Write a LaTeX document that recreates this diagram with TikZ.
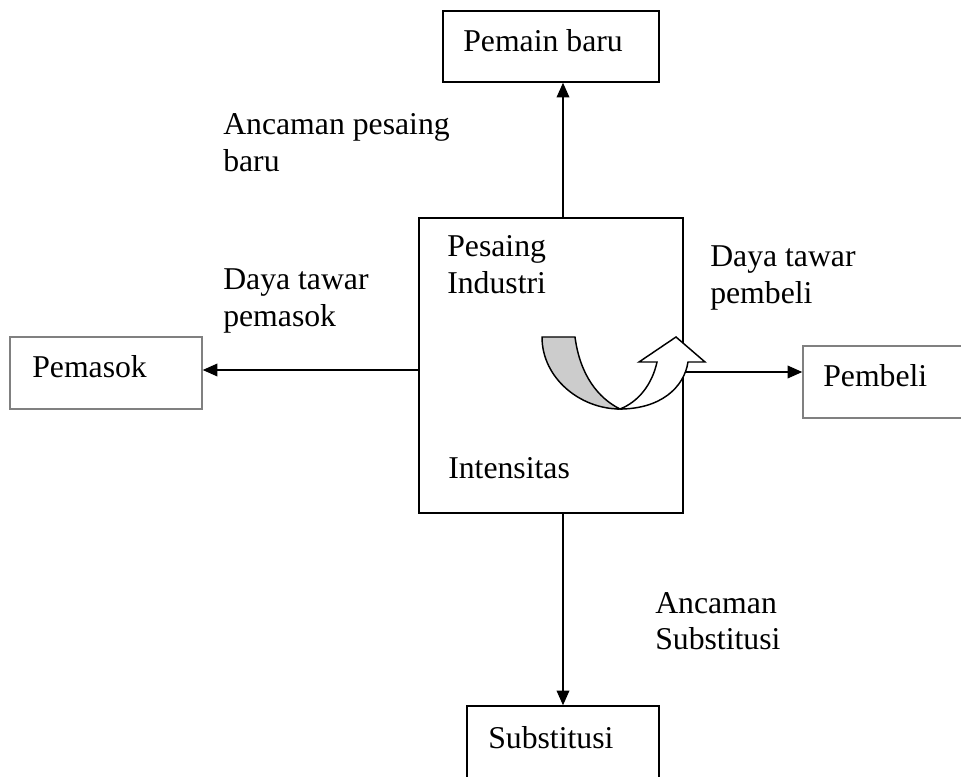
\documentclass[tikz,border=0pt]{standalone}
\usepackage{fontspec}
\setmainfont{Liberation Serif}
\usetikzlibrary{arrows.meta,fit}
\begin{document}
\begin{tikzpicture}[x=0.75pt,y=-0.75pt,
  box/.style={draw,line width=1.1pt,inner sep=0pt,rectangle},
  gbox/.style={box,draw=black!50},
  lbl/.style={anchor=base west,inner sep=0pt,font=\fontsize{23.8}{27.5}\selectfont},
  arr/.style={line width=1.1pt,-{Triangle[length=11pt,width=9.5pt]}},
  ribbon/.style={line width=1.1pt,line join=miter}]
\useasboundingbox (0,0) rectangle (961,777);
\clip (0,0) rectangle (961,777);
% boxes
\node[box,fit={(443,11) (659,82)}] (pb) {};
\node[box,fit={(419,218) (683,513)}] (ctr) {};
\node[gbox,fit={(10,337) (202,409)}] (pm) {};
\node[gbox,fit={(803,346) (985,418)}] (pbl) {};
\node[box,fit={(467,706) (659,800)}] (sb) {};
% helper coordinates
\coordinate (vx) at (563,0);
\coordinate (ly) at (0,370);
\coordinate (ry) at (0,372);
% connectors
\draw[arr] (ctr.north -| vx) -- (pb.south -| vx);
\draw[arr] (ctr.south -| vx) -- (sb.north -| vx);
\draw[arr] (ctr.west |- ly) -- (pm.east |- ly);
\draw[arr] (ctr.east |- ry) -- (pbl.west |- ry);
% texts
\node[lbl] (tpb) at (463,52) {Pemain baru};
\node[lbl] (tap) at (223,135) {\begin{tabular}[t]{@{}l@{}}Ancaman pesaing\\ baru\end{tabular}};
\node[lbl] (tpi) at (447,257) {\begin{tabular}[t]{@{}l@{}}Pesaing\\ Industri\end{tabular}};
\node[lbl] (tdp) at (223,290) {\begin{tabular}[t]{@{}l@{}}Daya tawar\\ pemasok\end{tabular}};
\node[lbl] (tdb) at (710,267) {\begin{tabular}[t]{@{}l@{}}Daya tawar\\ pembeli\end{tabular}};
\node[lbl] (tpm) at (32,378) {Pemasok};
\node[lbl] (tpbl) at (823,387) {Pembeli};
\node[lbl] (tin) at (448,478) {Intensitas};
\node[lbl] (tas) at (655,613) {\begin{tabular}[t]{@{}l@{}}Ancaman\\ Substitusi\end{tabular}};
\node[lbl] (tsb) at (488,748) {Substitusi};
% curved ribbon arrow
\filldraw[ribbon,fill=black!20] (542,337) -- (575,337)
  .. controls (580,375) and (598,398) .. (620,409)
  .. controls (580,409) and (542,378) .. (542,337) -- cycle;
\filldraw[ribbon,fill=white] (620,409)
  .. controls (660,409) and (684,388) .. (688,362)
  -- (705,362) -- (676,337) -- (639,362) -- (657,362)
  .. controls (652,385) and (638,402) .. (620,409) -- cycle;
\end{tikzpicture}
\end{document}
